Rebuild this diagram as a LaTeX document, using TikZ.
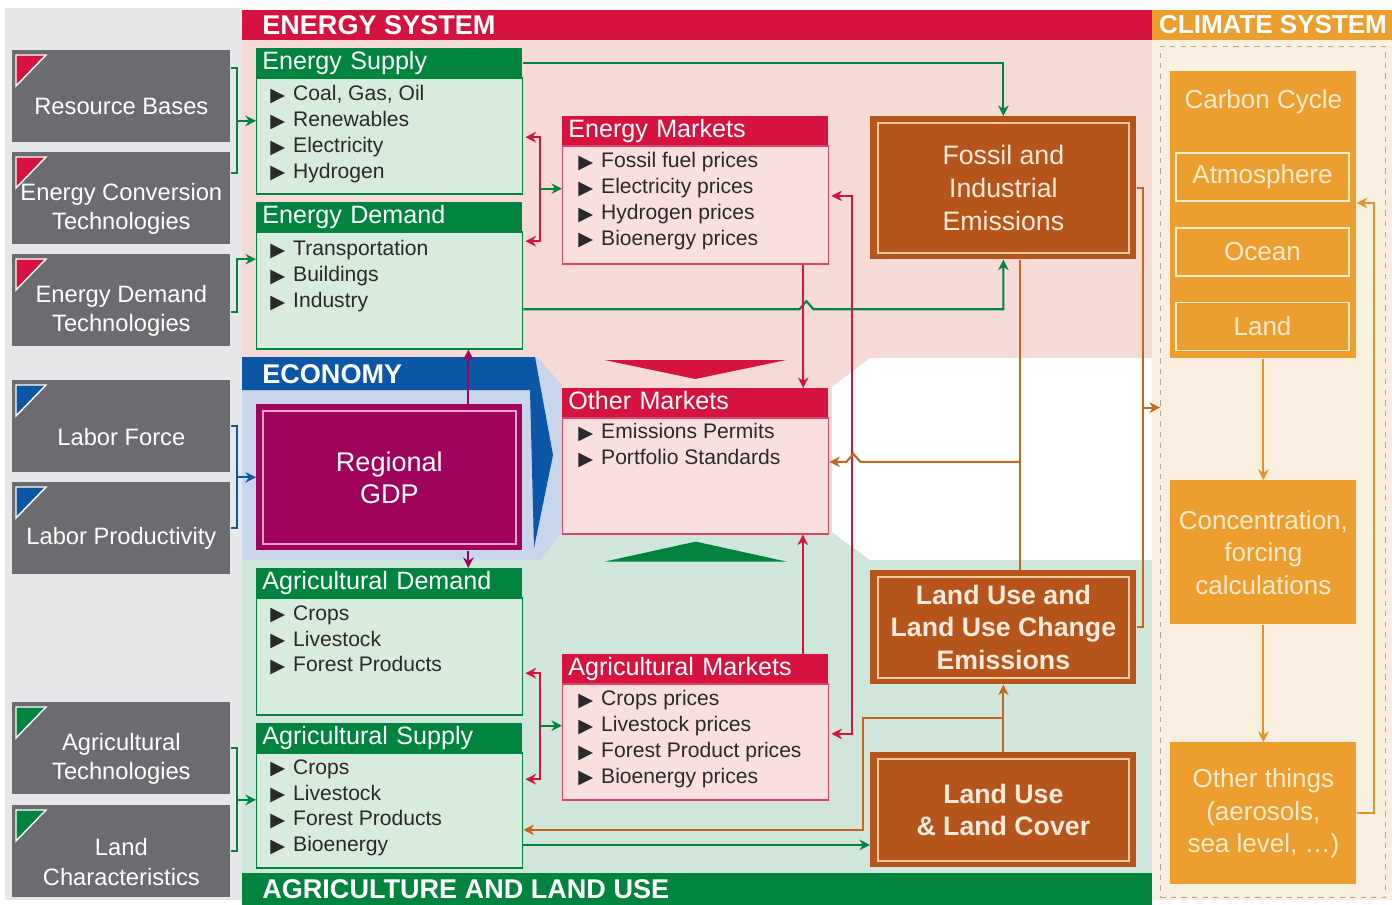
\documentclass[tikz,border=0pt]{standalone}
\usepackage{fontspec}
\setmainfont{Liberation Sans}
\newfontfamily\symfont{DejaVu Sans}
\usetikzlibrary{arrows.meta, positioning, calc}
\usepackage{xcolor}

\definecolor{esred}{HTML}{D6133F}
\definecolor{esgreen}{HTML}{00843E}
\definecolor{lgreen}{HTML}{D7ECDC}
\definecolor{bggreen}{HTML}{D1E6DA}
\definecolor{bgpink}{HTML}{F6DAD6}
\definecolor{boxpink}{HTML}{FADFDF}
\definecolor{bggray}{HTML}{E5E7E9}
\definecolor{drvgray}{HTML}{6B6C6F}
\definecolor{ecoblue}{HTML}{0C57A5}
\definecolor{bgblue}{HTML}{C9D5EA}
\definecolor{gdpmag}{HTML}{A0035B}
\definecolor{gdpline}{HTML}{F4A3CB}
\definecolor{emibrown}{HTML}{B5541B}
\definecolor{emiline}{HTML}{F6CBA3}
\definecolor{emitext}{HTML}{FCEBDA}
\definecolor{climorange}{HTML}{EC9F2F}
\definecolor{climtext}{HTML}{FDEBD0}
\definecolor{bgclim}{HTML}{F8EFE1}
\definecolor{clborder}{HTML}{B3A58E}
\definecolor{linkorange}{HTML}{C6661D}
\definecolor{clarrow}{HTML}{E39329}
\definecolor{itemtext}{HTML}{2A2A2A}

\newcommand{\bul}{\makebox[13pt][l]{\symfont\fontsize{11}{11}\selectfont\raisebox{-0.3pt}{▶}}}

\tikzset{%
	px/.style 2 args={minimum width=#1*0.02cm, minimum height=#2*0.02cm},
	driver/.style={anchor=north west, fill=drvgray, inner sep=0pt, px={218}{92}},
	drvtext/.style={text=white, align=center, inner sep=0pt, font=\fontsize{13.5}{17}\selectfont},
	hdr/.style={anchor=north west, inner xsep=0.12cm, inner ysep=0pt, text width=5.08cm,
		minimum height=0.57cm, text height=10.5pt, text depth=3pt, align=left, text=white,
		font=\fontsize{14.3}{16}\selectfont},
	ghdr/.style={hdr, fill=esgreen},
	rhdr/.style={hdr, fill=esred},
	body/.style={anchor=north west, inner sep=0pt, line width=0.8pt},
	gbody/.style={body, draw=esgreen, fill=lgreen},
	rbody/.style={body, draw=esred!80, fill=boxpink},
	items/.style={anchor=north west, inner sep=0pt, align=left, text=itemtext,
		font=\fontsize{12}{14.7}\selectfont},
	emis/.style={anchor=north west, inner sep=0pt, fill=emibrown, text=emitext, align=center,
		px={266}{#1}, font=\fontsize{15.2}{18.6}\selectfont},
	emisin/.style={draw=emiline, line width=1pt},
	clbox/.style={anchor=north west, inner sep=0pt, fill=climorange, text=climtext, align=center,
		font=\fontsize{14.8}{18.5}\selectfont},
	clsub/.style={clbox, draw=climtext, line width=1pt, px={173}{48}, anchor=center},
	bar/.style={anchor=west, text=white, inner sep=0pt, font=\bfseries\fontsize{15.4}{17}\selectfont},
	link/.style={line width=1.2pt},
	glink/.style={link, draw=esgreen},
	garrow/.style={glink, ->},
	blink/.style={link, draw=ecoblue},
	barrow/.style={blink, ->},
	rlink/.style={link, draw=esred},
	rarrow/.style={rlink, ->},
	marrow/.style={link, draw=gdpmag, ->},
	olink/.style={link, draw=linkorange},
	oarrow/.style={olink, ->},
	carrow/.style={link, draw=clarrow, ->},
}

\begin{document}
\begin{tikzpicture}[x=0.02cm, y=-0.02cm, >={Stealth[length=6pt, width=6pt]}]
	\useasboundingbox (0,0) rectangle (1392,905);

	% Background regions
	\fill[bggray] (5,8) rectangle (242,900);
	\fill[bgpink] (242,40) rectangle (1152,358);
	\fill[bgpink] (530,358) rectangle (870,460);
	\fill[bggreen] (242,560) rectangle (1152,873);
	\fill[bggreen] (530,460) rectangle (870,560);
	\fill[bgblue] (242,357) -- (537,357) -- (562,385) -- (562,533) -- (540,560) -- (242,560) -- cycle;
	\fill[ecoblue] (242,357) -- (535,357) -- (553,455) -- (534,548) -- (530,390) -- (242,390) -- cycle;
	\fill[white] (870,358) -- (1152,358) -- (1152,560) -- (870,560) -- (832,532) -- (832,387) -- cycle;
	\fill[bgclim] (1152,40) rectangle (1392,900);
	\node[draw=clborder, dashed, anchor=north west, inner sep=0pt, px={225}{851}] (clim) at (1160,46) {};

	% Section bars
	\fill[esred] (242,10) rectangle (1152,40);
	\fill[climorange] (1152,10) rectangle (1392,40);
	\fill[esgreen] (242,873) rectangle (1152,905);
	\node[bar] (es) at (262,25) {ENERGY SYSTEM};
	\node[bar, anchor=center, font=\bfseries\fontsize{14.8}{16}\selectfont] (cs) at (1273,25) {CLIMATE SYSTEM};
	\node[bar] (eco) at (262,374) {ECONOMY};
	\node[bar] (alu) at (262,889) {AGRICULTURE AND LAND USE};

	% Drivers
	\foreach \n/\y/\c/\t in {rb/50/esred/{Resource Bases},
		ect/152/esred/{Energy Conversion\\Technologies},
		edt/254/esred/{Energy Demand\\Technologies},
		lf/380/ecoblue/{Labor Force},
		lp/482/ecoblue/{Labor Productivity},
		agt/702/esgreen/{Agricultural\\Technologies},
		lc/805/esgreen/{Land\\Characteristics}} {
		\node[driver] (\n) at (12,\y) {};
		\filldraw[fill=\c, draw=white, line width=0.8pt] ([shift={(4,5)}]\n.north west) -- ++(30,0) -- ++(-30,31) -- cycle;
		\node[drvtext] (\n-t) at ([yshift=-0.21cm]\n.center) {\t};
	}

	% Energy supply and demand
	\node[ghdr] (esh) at (256,48) {Energy Supply};
	\node[gbody, px={266}{116}] (esb) at (esh.south west) {};
	\node[items] (esl) at ([shift={(14,8)}]esb.north west) {\bul Coal, Gas, Oil\\ \bul Renewables\\ \bul Electricity\\ \bul Hydrogen};
	\node[ghdr] (edh) at (256,202) {Energy Demand};
	\node[gbody, px={266}{117}] (edb) at (edh.south west) {};
	\node[items] (edl) at ([shift={(14,9)}]edb.north west) {\bul Transportation\\ \bul Buildings\\ \bul Industry};

	% Agriculture demand and supply
	\node[ghdr] (adh) at (256,568) {Agricultural Demand};
	\node[gbody, px={266}{117}] (adb) at (adh.south west) {};
	\node[items] (adl) at ([shift={(14,8)}]adb.north west) {\bul Crops\\ \bul Livestock\\ \bul Forest Products};
	\node[ghdr] (ash) at (256,723) {Agricultural Supply};
	\node[gbody, px={266}{115}] (asb) at (ash.south west) {};
	\node[items] (asl) at ([shift={(14,7)}]asb.north west) {\bul Crops\\ \bul Livestock\\ \bul Forest Products\\ \bul Bioenergy};

	% Markets
	\node[rhdr] (emh) at (562,116) {Energy Markets};
	\node[rbody, px={266}{118}] (emb) at (emh.south west) {};
	\node[items] (eml) at ([shift={(16,7)}]emb.north west) {\bul Fossil fuel prices\\ \bul Electricity prices\\ \bul Hydrogen prices\\ \bul Bioenergy prices};
	\node[rhdr] (omh) at (562,388) {Other Markets};
	\node[rbody, px={266}{116}] (omb) at (omh.south west) {};
	\node[items] (oml) at ([shift={(16,6)}]omb.north west) {\bul Emissions Permits\\ \bul Portfolio Standards};
	\node[rhdr] (amh) at (562,654) {Agricultural Markets};
	\node[rbody, px={266}{116}] (amb) at (amh.south west) {};
	\node[items] (aml) at ([shift={(16,7)}]amb.north west) {\bul Crops prices\\ \bul Livestock prices\\ \bul Forest Product prices\\ \bul Bioenergy prices};
	\fill[esred] ([shift={(-91,-28)}]omh.north) -- ++(182,0) -- ([shift={(0,-9)}]omh.north) -- cycle;
	\fill[esgreen] ([shift={(-91,27)}]omb.south) -- ++(182,0) -- ([shift={(0,7)}]omb.south) -- cycle;

	% Regional GDP
	\node[anchor=north west, inner sep=0pt, fill=gdpmag, text=white, align=center, px={266}{146},
		font=\fontsize{15.4}{18.2}\selectfont] (gdp) at (256,404) {Regional\\GDP};
	\draw[draw=gdpline, line width=1pt] ([shift={(7,7)}]gdp.north west) rectangle ([shift={(-7,-7)}]gdp.south east);

	% Emissions
	\node[emis=143] (fie) at (870,116) {Fossil and\\Industrial\\Emissions};
	\node[emis=114, font=\bfseries\fontsize{15.2}{18.6}\selectfont] (luc) at (870,570) {Land Use and\\Land Use Change\\Emissions};
	\node[emis=115, font=\bfseries\fontsize{15.2}{18.6}\selectfont] (llc) at (870,752) {Land Use\\\& Land Cover};
	\foreach \b in {fie, luc, llc}
		\draw[emisin] ([shift={(8,7)}]\b.north west) rectangle ([shift={(-8,-7)}]\b.south east);

	% Climate system
	\node[clbox, px={186}{287}] (ccy) at (1170,71) {};
	\node[text=climtext, font=\fontsize{14.8}{18.5}\selectfont] (ccy-t) at ([yshift=-0.62cm]ccy.north) {Carbon Cycle};
	\node[clsub] (atm) at (1262.5,177) {Atmosphere};
	\node[clsub, below=0.5cm of atm] (ocn) {Ocean};
	\node[clsub, below=0.5cm of ocn] (lnd) {Land};
	\node[clbox, px={186}{144}] (conc) at (1170,480) {Concentration,\\forcing\\calculations};
	\node[clbox, px={186}{142}] (oth) at (1170,742) {Other things\\(aerosols,\\sea level, \dots)};

	% Driver brackets
	\draw[glink] ([shift={(0,-28)}]rb.east) -- ++(6,0) |- ([shift={(0,-25)}]ect.east);
	\coordinate (jsup) at ([shift={(6,24.5)}]rb.east);
	\draw[garrow] (jsup) -- (jsup -| esb.west);
	\draw[garrow] ([shift={(0,12)}]edt.east) -- ++(6,0) |- ([shift={(0,28)}]edb.north west);
	\draw[blink] (lf.east) -- ++(6,0) |- (lp.east);
	\coordinate (jlab) at ($(lf.east)!0.5!(lp.east)+(6,0)$);
	\draw[barrow] (jlab) -- (jlab -| gdp.west);
	\draw[glink] (agt.east) -- ++(6,0) |- (lc.east);
	\coordinate (jagr) at ($(agt.east)!0.5!(lc.east)+(6,0)$);
	\draw[garrow] (jagr) -- (jagr -| asb.west);

	% Supply/demand to markets
	\draw[rlink, <->] ([shift={(2,60)}]esb.north east) -- ++(15,0) |- ([shift={(2,10)}]edb.north east);
	\coordinate (jem) at ([shift={(17,111.5)}]esb.north east);
	\draw[garrow] (jem) -- (jem -| emb.west);
	\draw[rlink, <->] ([shift={(2,76)}]adb.north east) -- ++(15,0) |- ([shift={(2,27)}]asb.north east);
	\coordinate (jam) at ([shift={(17,128.5)}]adb.north east);
	\draw[garrow] (jam) -- (jam -| amb.west);

	% GDP links
	\coordinate (gup) at ([xshift=1.58cm]gdp.north);
	\draw[marrow] (gup) -- (gup |- edb.south);
	\coordinate (gdn) at ([xshift=1.58cm]gdp.south);
	\draw[marrow] (gdn) -- (gdn |- adh.north);

	% Energy to emissions
	\draw[garrow] (esh.east) -| (fie.north);
	\draw[garrow] ([shift={(0,78)}]edb.north east) -- ++(276,0) -- ++(7,-8) -- ++(7,8) -| (fie.south);

	% Market links
	\coordinate (emd) at ([xshift=2.15cm]emb.south);
	\draw[rarrow] (emd) -- (emd |- omh.north);
	\coordinate (amu) at ([xshift=2.15cm]amh.north);
	\draw[rarrow] (amu) -- (amu |- omb.south);
	\draw[rlink, <->] ([shift={(2,-9)}]emb.east) -- ++(21,0) |- ([shift={(2,-8)}]amb.east);

	% Emissions links
	\coordinate (fd) at ([xshift=0.34cm]fie.south);
	\draw[olink] (fd) -- (fd |- luc.north);
	\coordinate (jom) at ([yshift=0.28cm]omb.east);
	\draw[oarrow] (jom -| fd) -- ++(-160,0) -- ++(-7,-8) -- ++(-7,8) -- (jom);
	\draw[olink] (fie.east) -- ++(6,0) |- (luc.east);
	\coordinate (jcl) at ($(fie.east)!0.5!(luc.east)+(6,0)$);
	\draw[oarrow] (jcl) -- (jcl -| clim.west);
	\draw[oarrow] (llc.north) -- (luc.south);
	\draw[oarrow] ([yshift=0.68cm]llc.north) -- ++(-140,0) |- ([yshift=-0.39cm]asb.east);
	\coordinate (jll) at ([yshift=-0.69cm]asb.east);
	\draw[garrow] (jll) -- (jll -| llc.west);

	% Climate links
	\draw[carrow] (ccy.south) -- (conc.north);
	\draw[carrow] (conc.south) -- (oth.north);
	\draw[carrow] (oth.east) -- ++(17,0) |- ([shift={(0,132)}]ccy.north east);
\end{tikzpicture}
\end{document}
